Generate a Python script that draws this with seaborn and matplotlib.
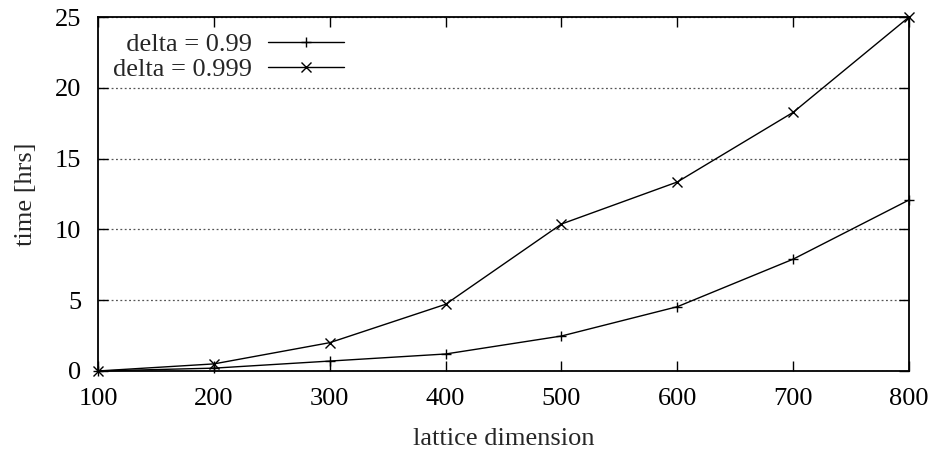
import matplotlib
matplotlib.use("Agg")
import matplotlib.pyplot as plt
import seaborn as sns
import pandas as pd

# lattice dimension vs running time in hours
dims = [100, 200, 300, 400, 500, 600, 700, 800]
time_099 = [0.0, 0.2, 0.7, 1.2, 2.47, 4.54, 7.9, 12.08]
time_0999 = [0.0, 0.5, 2.0, 4.71, 10.38, 13.35, 18.27, 25.0]
labels = ["  delta = 0.99", "delta = 0.999"]
markers = ["+", "x"]

df = pd.DataFrame({
    "dim": dims * 2,
    "hrs": time_099 + time_0999,
    "series": [labels[0]] * len(dims) + [labels[1]] * len(dims),
})

sns.set_theme(style="ticks")
plt.rcParams["font.family"] = ["Liberation Serif", "DejaVu Serif"]

fig = plt.figure(figsize=(9.32, 4.5), dpi=100)
ax = fig.add_axes([0.1052, 0.1756, 0.8702, 0.7866])

sns.lineplot(data=df, x="dim", y="hrs", hue="series", style="series",
             markers=dict(zip(labels, markers)), dashes=False,
             palette=["black", "black"], linewidth=1.0, markersize=7,
             markeredgewidth=1.0, markeredgecolor="black", clip_on=False,
             zorder=5, ax=ax)

ax.set_xlim(100, 800)
ax.set_ylim(0, 25)
ax.set_xticks(dims)
ax.set_yticks([0, 5, 10, 15, 20, 25])
ax.tick_params(direction="in", length=7, width=1, top=True, right=True,
               labelsize=19, pad=12, colors="black")
ax.yaxis.grid(True, linestyle=(0, (1.5, 2)), color="#555555", linewidth=0.9)
for s in ax.spines.values():
    s.set_linewidth(1.3)
    s.set_color("black")

ax.set_xlabel("lattice dimension", fontsize=19, labelpad=13)
ax.set_ylabel("time [hrs]", fontsize=19, labelpad=13)

leg = ax.legend(loc="upper right", bbox_to_anchor=(0.323, 1.0), frameon=False,
                markerfirst=False, fontsize=19, handlelength=2.9,
                handletextpad=0.6, labelspacing=0.05, borderaxespad=0.2)

fig.savefig("out.png", dpi=100)
